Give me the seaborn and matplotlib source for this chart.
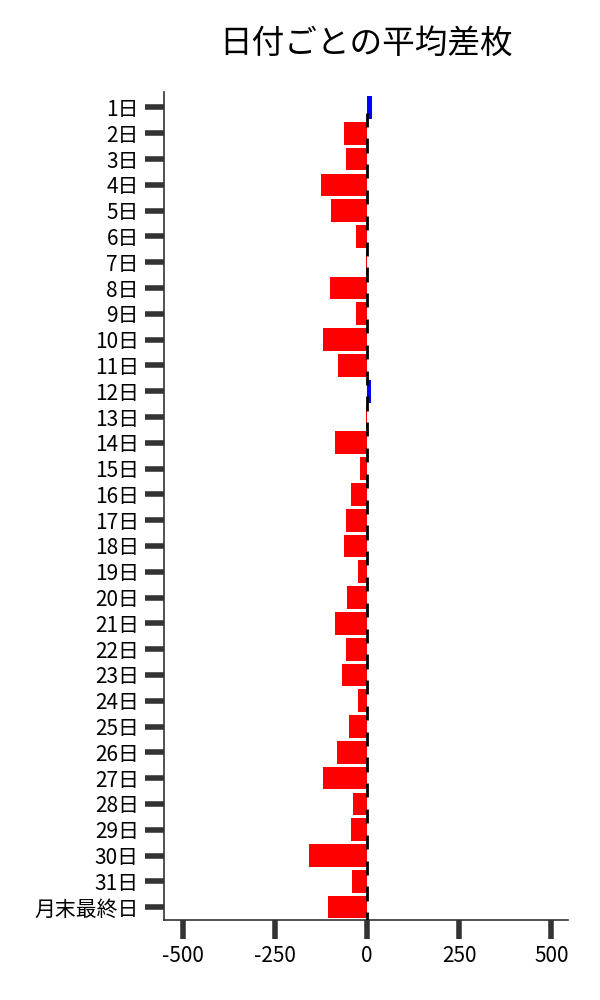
import matplotlib
matplotlib.use("Agg")
import matplotlib.pyplot as plt
import seaborn as sns
import pandas as pd
import numpy as np

days = [f"{i}日" for i in range(1, 32)] + ["月末最終日"]
avg_diff = [13, -62, -56, -124, -97, -29, -2, -102, -29, -119, -78, 11,
            -3, -86, -18, -43, -56, -62, -24, -54, -86, -56, -67, -24,
            -48, -83, -119, -37, -45, -157, -40, -105]
title = "日付ごとの平均差枚"
xticks = [-500, -250, 0, 250, 500]

sns.set_style("ticks")
plt.rcParams['font.family'] = ['Noto Sans CJK JP', 'DejaVu Sans']
plt.rcParams['text.color'] = 'black'

df = pd.DataFrame({"day": days, "diff": avg_diff})
df["sign"] = np.where(df["diff"] >= 0, "pos", "neg")

fig = plt.figure(figsize=(6, 10), dpi=100)
ax = fig.add_axes([0.273, 0.08, 0.674, 0.828])

sns.barplot(data=df, x="diff", y="day", hue="sign", order=days,
            palette={"pos": "#0000ff", "neg": "#ff0000"}, dodge=False,
            legend=False, width=0.88, saturation=1, linewidth=0, ax=ax)

ypos = np.arange(len(days))
ax.vlines(np.zeros(len(days)), ypos + 0.2, ypos + 0.75,
          colors="black", linewidth=2.0, zorder=3)

ax.set_xlim(-552, 546)
ax.set_ylim(len(days) - 0.5, -0.6)
ax.set_xticks(xticks)
ax.set_xticklabels([str(v) for v in xticks])
ax.set_xlabel("")
ax.set_ylabel("")
ax.set_title(title, fontsize=23.5, pad=28, color="black")
ax.tick_params(axis="both", length=14, width=4, color="#333333",
               labelsize=15, pad=4, labelcolor="black")
for s in ["top", "right"]:
    ax.spines[s].set_visible(False)
for s in ["left", "bottom"]:
    ax.spines[s].set_color("#333333")
    ax.spines[s].set_linewidth(1.2)

fig.savefig("out.png", dpi=100)
